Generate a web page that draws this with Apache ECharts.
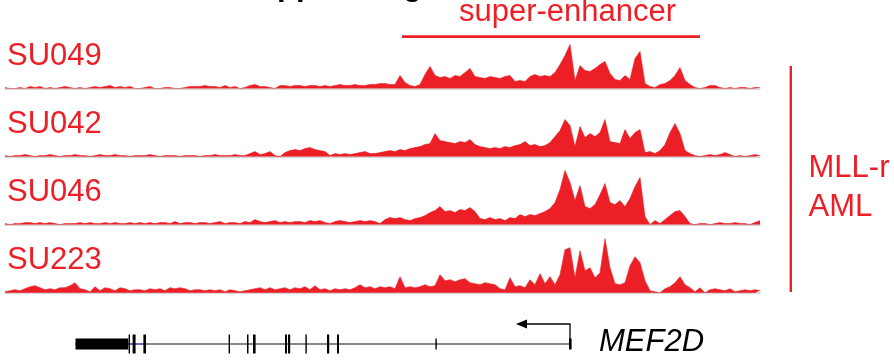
<!DOCTYPE html>
<html>
<head>
<meta charset="utf-8">
<script src="https://cdn.jsdelivr.net/npm/echarts@6/dist/echarts.min.js"></script>
<style>
  html, body { margin: 0; padding: 0; background: #fff; }
  #chart { width: 894px; height: 362px; }
</style>
</head>
<body>
<div id="chart"></div>
<script>
// track names and signal per 5px bin (x = 5 .. 760)
const trackNames = ['SU049', 'SU042', 'SU046', 'SU223'];

const su049 = [
  1,0,0,1,0,2,1,2,0,1,
  0,1,2,1,0,1,0,1,2,1,
  2,3,1,2,1,2,0,0,1,2,
  0,0,1,1,0,0,1,2,2,2,
  3,2,2,1,3,1,2,0,1,3,
  4,2,2,1,0,3,3,2,3,3,
  2,3,3,2,3,2,3,4,3,3,
  4,3,3,4,4,5,5,4,4,13,
  6,3,2,4,14,22,13,11,12,10,
  13,12,16,20,12,11,10,12,11,10,
  12,13,7,8,7,12,14,12,13,12,
  16,24,33,44,8,23,18,17,20,24,
  27,15,9,8,13,9,30,37,5,2,
  1,4,5,8,13,21,8,4,1,0,
  1,3,3,1,0,1,0,1,1,0,
  1,1
];
const su042 = [
  1,0,1,1,2,1,0,1,1,2,
  1,0,1,1,2,1,1,0,1,2,
  1,1,2,1,1,0,1,1,1,2,
  1,0,1,1,1,0,1,1,1,0,
  1,1,2,1,1,1,2,1,1,3,
  5,2,3,5,1,0,4,6,7,6,
  8,9,7,6,5,1,3,2,3,2,
  3,4,5,3,3,4,5,6,5,7,
  6,8,9,10,12,13,23,16,15,14,
  13,15,14,17,12,10,9,8,9,8,
  10,9,11,12,15,11,12,10,11,14,
  20,26,37,31,10,30,19,23,20,24,
  37,15,14,13,27,18,24,27,4,5,
  3,6,12,24,33,23,6,3,1,0,
  1,2,1,2,4,2,0,1,0,1,
  2,1
];
const su046 = [
  1,0,1,1,2,2,1,2,1,2,
  1,0,1,1,1,2,1,2,1,1,
  2,1,2,1,1,2,1,2,1,2,
  1,2,2,1,3,1,2,2,1,2,
  2,1,2,3,1,2,2,1,3,2,
  5,3,2,3,4,2,3,2,3,3,
  2,4,3,4,2,1,3,4,3,2,
  3,4,3,4,3,1,5,7,6,7,
  5,4,6,7,9,12,14,18,13,14,
  12,15,14,17,13,6,5,7,5,6,
  4,7,6,10,8,10,9,11,13,16,
  22,35,54,42,24,39,18,16,20,30,
  41,22,20,24,18,26,38,47,8,0,
  4,1,5,9,13,14,8,1,0,1,
  1,0,1,2,1,1,2,1,1,0,
  2,4
];
const su223 = [
  1,2,3,2,4,6,7,5,3,4,
  3,5,5,7,10,4,3,1,6,2,
  5,4,2,5,4,2,3,3,2,4,
  3,4,2,5,4,5,4,2,3,3,
  2,3,2,3,1,3,2,1,2,3,
  4,5,3,5,3,4,5,3,5,4,
  6,3,7,3,4,2,4,3,4,3,
  5,8,5,6,4,6,5,6,4,16,
  5,6,5,6,8,6,7,18,12,13,
  11,13,14,10,9,8,10,9,8,4,
  3,15,6,7,5,13,8,19,9,16,
  8,18,43,45,15,42,22,25,15,20,
  54,25,9,8,10,27,36,30,12,2,
  1,0,4,6,10,16,8,5,1,5,
  0,3,4,3,2,4,1,2,3,2,
  3,2
];

// MEF2D gene model, same x units as the tracks: [start, end, half height]
const geneExons = [
  [75.5,128.3,5.5], [128.6,130,9.5], [132.6,135.6,9.5], [143.4,146,9.5],
  [228.6,230,9.5], [247,248.5,9.5], [253,255.6,9.5], [285,287,9.5],
  [288,290.2,9.5], [305.4,306.8,9.5], [327,329.2,9.5], [337,339,9.5],
  [435.4,436.8,5.5], [569,571.6,5.5]
];
const geneIntrons = [[75, 570], [130, 143.4]];
const intronColors = ['#111', '#4b56c8'];
const tssArrow = [570, 516]; // TSS, arrow tip

const red = '#ec1f27';
const font = '"Liberation Sans", Arial, sans-serif';
const tracks = [su049, su042, su046, su223];
const bins = su049.map((v, i) => i);
const baselines = [88.5, 156.6, 224.6, 292.7];
const trackH = 56;
const mid = 14;

let chart = echarts.init(document.getElementById('chart'));

let grids = [], xAxes = [], yAxes = [], series = [];
tracks.forEach(function (d, i) {
  grids.push({left: 5, width: 755, top: baselines[i] - trackH, height: trackH});
  xAxes.push({
    type: 'category', gridIndex: i, data: bins, boundaryGap: false,
    axisLine: {lineStyle: {color: '#c9c9c9', width: 1.5}},
    axisTick: {show: false}, axisLabel: {show: false}, splitLine: {show: false}
  });
  yAxes.push({type: 'value', gridIndex: i, min: 0, max: trackH, show: false});
  series.push({
    type: 'line', name: trackNames[i], xAxisIndex: i, yAxisIndex: i,
    data: d, symbol: 'none',
    lineStyle: {color: red, width: 0.6},
    areaStyle: {color: red, opacity: 1},
    z: 3
  });
});

// gene grid
grids.push({left: 5, width: 755, top: 330, height: 28});
xAxes.push({type: 'value', gridIndex: 4, min: 5, max: 760, show: false});
yAxes.push({type: 'value', gridIndex: 4, min: 0, max: 28, show: false});

series.push({
  type: 'custom', xAxisIndex: 4, yAxisIndex: 4, data: geneIntrons,
  renderItem: function (params, api) {
    let a = api.coord([api.value(0), mid]);
    let b = api.coord([api.value(1), mid]);
    return {type: 'line', shape: {x1: a[0], y1: a[1], x2: b[0], y2: b[1]},
      style: {stroke: intronColors[params.dataIndex], lineWidth: 1.2}};
  }
});
series.push({
  type: 'custom', xAxisIndex: 4, yAxisIndex: 4, data: geneExons, z: 4,
  renderItem: function (params, api) {
    let s = api.coord([api.value(0), mid + api.value(2)]);
    let e = api.coord([api.value(1), mid - api.value(2)]);
    return {type: 'rect', shape: {x: s[0], y: s[1], width: Math.max(e[0] - s[0], 1.2), height: e[1] - s[1]},
      style: {fill: '#000'}};
  }
});
series.push({
  type: 'custom', xAxisIndex: 4, yAxisIndex: 4, data: [tssArrow],
  renderItem: function (params, api) {
    let base = api.coord([api.value(0), mid + 1]);
    let top = api.coord([api.value(0), mid + 20]);
    let tip = api.coord([api.value(1), mid + 20]);
    return {type: 'group', children: [
      {type: 'polyline', shape: {points: [base, top, [tip[0] + 9, tip[1]]]},
        style: {stroke: '#000', lineWidth: 1.3, fill: null}},
      {type: 'polygon', shape: {points: [tip, [tip[0] + 11, tip[1] - 4.5], [tip[0] + 11, tip[1] + 4.5]]},
        style: {fill: '#000'}}
    ]};
  }
});

function label(text, x, y, extra) {
  return Object.assign({
    type: 'text', x: x, y: y,
    style: {text: text, fill: red, font: '31px ' + font, verticalAlign: 'middle'}
  }, extra || {});
}

let graphics = [
  label('super-enhancer', 567.5, 12.4),
  {type: 'rect', shape: {x: 402, y: 35.3, width: 298, height: 2.8}, style: {fill: red}},
  {type: 'rect', shape: {x: 789.6, y: 66, width: 2.4, height: 226}, style: {fill: red}},
  label('MLL-r', 808.5, 168.7),
  label('AML', 808.5, 207.4),
  {type: 'text', x: 599, y: 342.5,
    style: {text: 'MEF2D', fill: '#000', font: 'italic 31px ' + font, verticalAlign: 'middle'}},
  // title above, cut off by the crop: only descenders show
  {type: 'text', x: 277, y: -13.5,
    style: {text: 'pp', fill: '#000', font: 'bold 31px ' + font, verticalAlign: 'middle'}},
  {type: 'text', x: 403, y: -13.5,
    style: {text: 'g', fill: '#000', font: 'bold 31px ' + font, verticalAlign: 'middle'}}
];
graphics[0].style.align = 'center';
trackNames.forEach(function (n, i) {
  graphics.push(label(n, 7, baselines[i] - 32.3));
});

chart.setOption({
  animation: false,
  backgroundColor: '#fff',
  grid: grids,
  xAxis: xAxes,
  yAxis: yAxes,
  series: series,
  graphic: graphics
});
</script>
</body>
</html>
